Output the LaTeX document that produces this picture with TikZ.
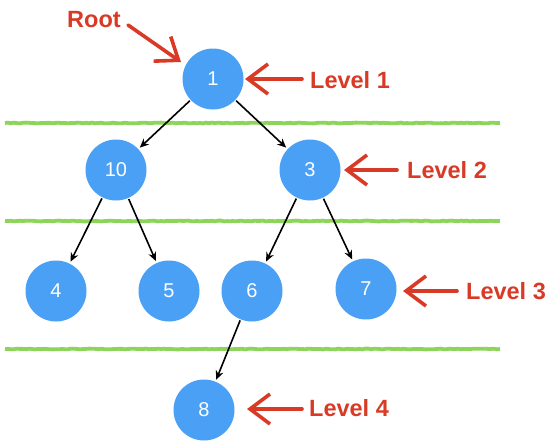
\documentclass[tikz,border=0pt]{standalone}
\usepackage{fontspec}
\setmainfont{Liberation Sans}
\usetikzlibrary{arrows.meta,decorations.pathmorphing}
\definecolor{nodeblue}{HTML}{4AA0F5}
\definecolor{lvlgreen}{HTML}{8CD45A}
\definecolor{lblred}{HTML}{D93A26}
\tikzset{
  tnode/.style={circle,fill=nodeblue,minimum size=61pt,inner sep=0pt,text=white,font=\fontsize{20pt}{22pt}\selectfont},
  edge/.style={draw=black,line width=1.6pt,-{Stealth[length=9pt,width=8pt]},shorten >=2pt,shorten <=1pt},
  levelline/.style={draw=lvlgreen,line width=3.8pt,decorate,decoration={random steps,segment length=3pt,amplitude=0.4pt}},
  lbl/.style={text=lblred,font=\bfseries\fontsize{23.5pt}{25pt}\selectfont,inner sep=0pt},
  redarrow/.style={draw=lblred,line width=3.6pt,line cap=round,-{Straight Barb[length=20pt,width=30pt,line width=3.6pt]}}
}
\begin{document}
\begin{tikzpicture}[x=1pt,y=-1pt]
\useasboundingbox (0,0) rectangle (551,442);
% level lines
\coordinate (g1a) at (5,123); \coordinate (g1b) at (500,123);
\coordinate (g2a) at (5,221); \coordinate (g2b) at (500,221);
\coordinate (g3a) at (5,349); \coordinate (g3b) at (500,349);
\draw[levelline] (g1a) -- (g1b);
\draw[levelline] (g2a) -- (g2b);
\draw[levelline] (g3a) -- (g3b);
% nodes
\node[tnode] (n1) at (213,79) {1};
\node[tnode] (n10) at (116,170) {10};
\node[tnode] (n3) at (310,170) {3};
\node[tnode] (n4) at (56,291) {4};
\node[tnode] (n5) at (169,291) {5};
\node[tnode] (n6) at (252,291) {6};
\node[tnode] (n7) at (366,289) {7};
\node[tnode] (n8) at (204,410) {8};
% edges
\draw[edge] (n1) -- (n10);
\draw[edge] (n1) -- (n3);
\draw[edge] (n10) -- (n4);
\draw[edge] (n10) -- (n5);
\draw[edge] (n3) -- (n6);
\draw[edge] (n3) -- (n7);
\draw[edge] (n6) -- (n8);
% labels
\node[lbl] (root) at (94,20) {Root};
\node[lbl] (l1) at (350,80) {Level 1};
\node[lbl] (l2) at (447,170) {Level 2};
\node[lbl] (l3) at (506,291) {Level 3};
\node[lbl] (l4) at (349,408) {Level 4};
% red arrows
\coordinate (ra) at (128,25);
\coordinate (rb) at (181,62);
\draw[redarrow] (ra) -- (rb);
\coordinate (a1) at (302,79); \coordinate (b1) at (245,79);
\coordinate (a2) at (397,170); \coordinate (b2) at (344,170);
\coordinate (a3) at (457,291); \coordinate (b3) at (403,291);
\coordinate (a4) at (302,409); \coordinate (b4) at (247,409);
\draw[redarrow] (a1) -- (b1);
\draw[redarrow] (a2) -- (b2);
\draw[redarrow] (a3) -- (b3);
\draw[redarrow] (a4) -- (b4);
\end{tikzpicture}
\end{document}
